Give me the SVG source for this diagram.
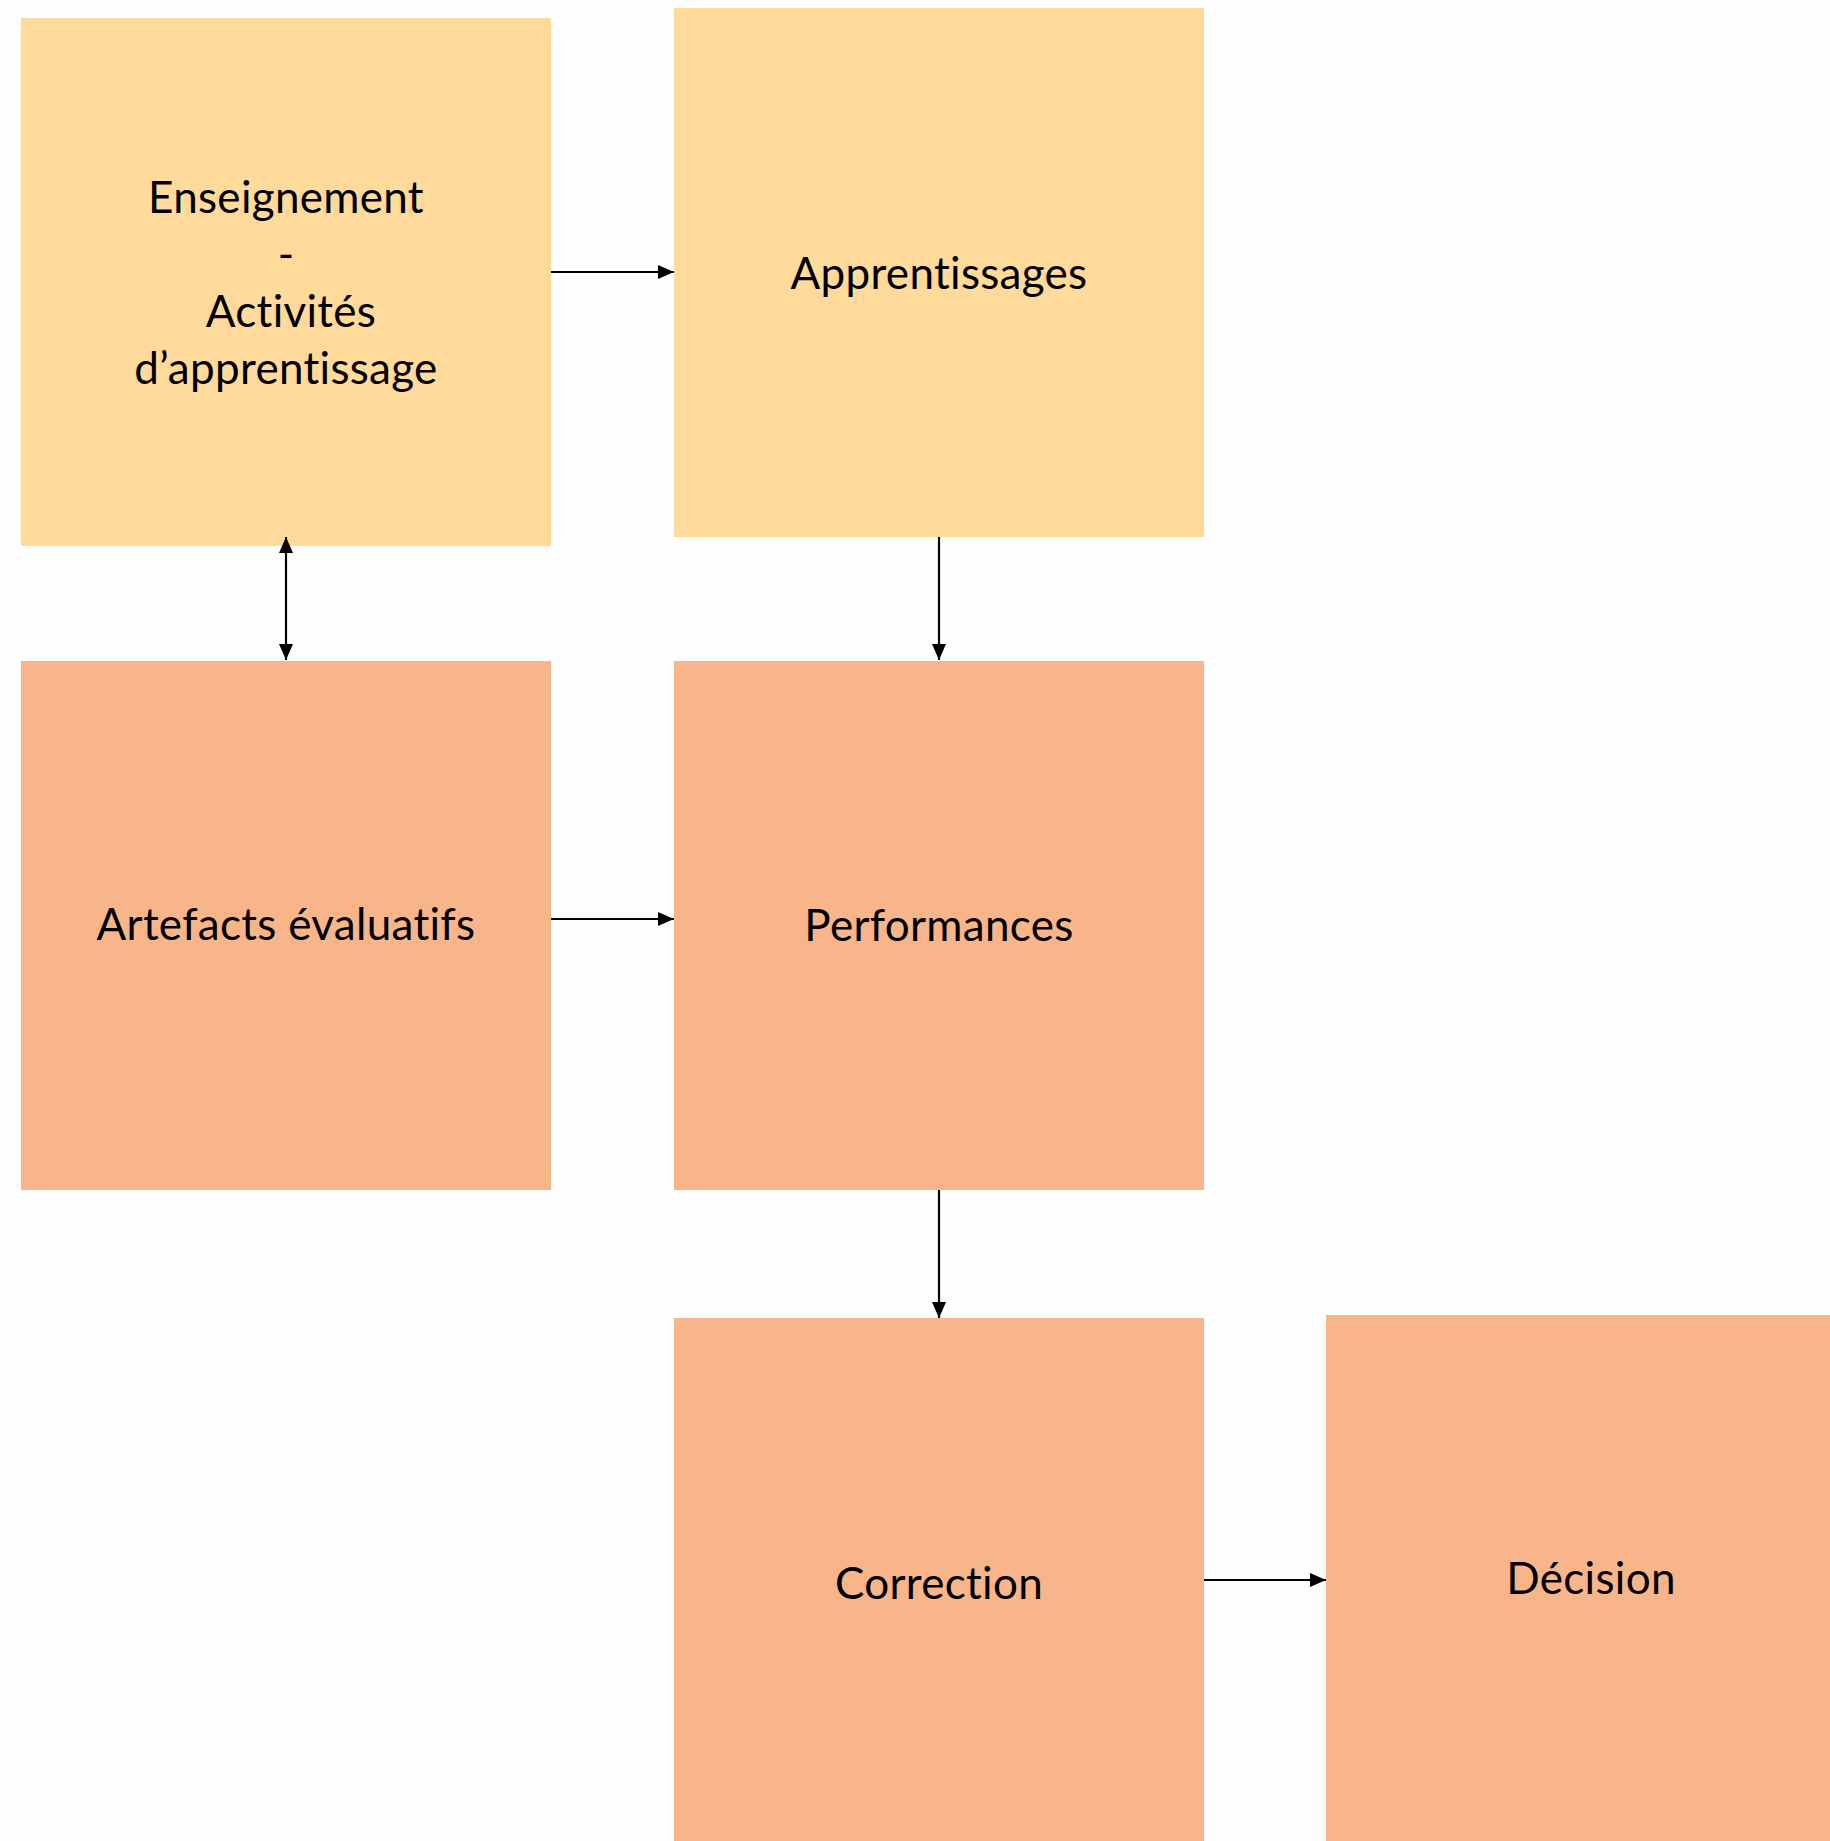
<svg xmlns="http://www.w3.org/2000/svg" width="1830" height="1841" viewBox="0 0 1830 1841">
<style>
.y{fill:#FFDA9B}
.o{fill:#F7B589}
.t{font-family:Lato,"Open Sans","Liberation Sans",sans-serif;font-size:44px;fill:#000;text-anchor:middle;font-variant-ligatures:none;letter-spacing:0.3px}
.c{stroke:#000;stroke-width:2.2;fill:none}
</style>
<defs>
<marker id="ah" markerUnits="userSpaceOnUse" markerWidth="18" markerHeight="18" refX="16" refY="8" orient="auto-start-reverse">
<path d="M0,1 L16,8 L0,15 Z" fill="#000"/>
</marker>
</defs>
<rect width="1830" height="1841" fill="#FEFEFE"/>
<g id="n1"><rect class="y" x="21" y="18" width="530" height="528"/>
<text class="t" x="286" y="213">Enseignement</text>
<text class="t" x="286" y="270">-</text>
<text class="t" x="291" y="327">Activités</text>
<text class="t" x="286" y="384">d’apprentissage</text></g>
<g id="n2"><rect class="y" x="674" y="8" width="530" height="529"/>
<text class="t" x="939" y="289">Apprentissages</text></g>
<g id="n3"><rect class="o" x="21" y="661" width="530" height="529"/>
<text class="t" x="286" y="940">Artefacts évaluatifs</text></g>
<g id="n4"><rect class="o" x="674" y="661" width="530" height="529"/>
<text class="t" x="939" y="941">Performances</text></g>
<g id="n5"><rect class="o" x="674" y="1318" width="530" height="528"/>
<text class="t" x="939" y="1599">Correction</text></g>
<g id="n6"><rect class="o" x="1326" y="1315" width="530" height="528"/>
<text class="t" x="1591" y="1594">Décision</text></g>
<g id="connectors">
<line class="c" x1="551" y1="272" x2="674" y2="272" marker-end="url(#ah)"/>
<line class="c" x1="286" y1="537" x2="286" y2="660" marker-start="url(#ah)" marker-end="url(#ah)"/>
<line class="c" x1="939" y1="537" x2="939" y2="660" marker-end="url(#ah)"/>
<line class="c" x1="551" y1="919" x2="674" y2="919" marker-end="url(#ah)"/>
<line class="c" x1="939" y1="1190" x2="939" y2="1318" marker-end="url(#ah)"/>
<line class="c" x1="1204" y1="1580" x2="1326" y2="1580" marker-end="url(#ah)"/>
</g>
</svg>
